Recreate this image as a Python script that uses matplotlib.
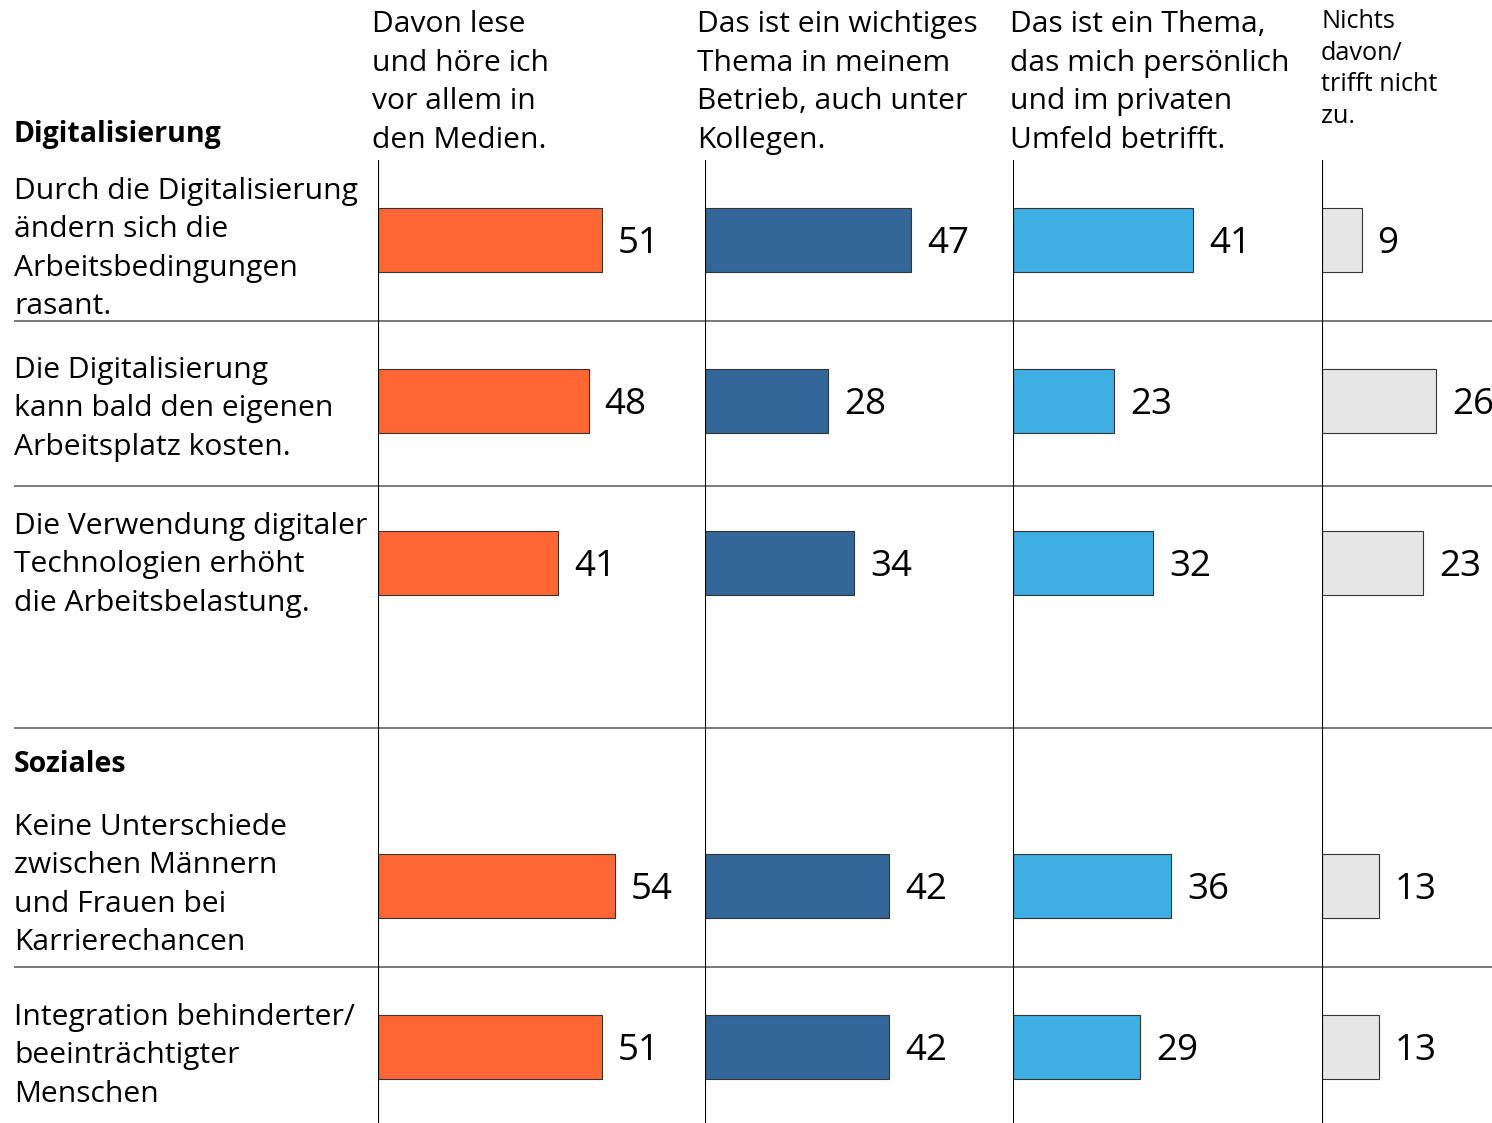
import matplotlib.pyplot as plt

plt.rcParams['font.family'] = ['Open Sans', 'DejaVu Sans']

# data
col_titles = [
    ["Davon lese", "und höre ich", "vor allem in", "den Medien."],
    ["Das ist ein wichtiges", "Thema in meinem", "Betrieb, auch unter", "Kollegen."],
    ["Das ist ein Thema,", "das mich persönlich", "und im privaten", "Umfeld betrifft."],
    ["Nichts", "davon/", "trifft nicht", "zu."],
]
row_labels = [
    ["Durch die Digitalisierung", "ändern sich die", "Arbeitsbedingungen", "rasant."],
    ["Die Digitalisierung", "kann bald den eigenen", "Arbeitsplatz kosten."],
    ["Die Verwendung digitaler", "Technologien erhöht", "die Arbeitsbelastung."],
    ["Keine Unterschiede", "zwischen Männern", "und Frauen bei", "Karrierechancen"],
    ["Integration behinderter/", "beeinträchtigter", "Menschen"],
]
groups = ["Digitalisierung", "Soziales"]
medien = [51, 48, 41, 54, 51]
betrieb = [47, 28, 34, 42, 42]
privat = [41, 23, 32, 36, 29]
nichts = [9, 26, 23, 13, 13]
series = [medien, betrieb, privat, nichts]
colors = ['#FF6633', '#336699', '#3FAEE3', '#E6E6E6']

# layout (pixels)
W, H = 1492, 1123
col_x = [378, 705, 1013, 1322, 1492]
row_y = [240, 401, 563, 886, 1047]
label_base = [199, 378, 534, 835, 1025]   # baseline of first label line
group_base = [142, 772]
sep_y = [321, 486, 728, 967]
px_per_unit = 4.39
line_top = 160


def put_lines(ax, x, y0, lines, step, **kw):
    for i, s in enumerate(lines):
        ax.text(x, y0 + i * step, s, va='baseline', ha='left', **kw)


fig = plt.figure(figsize=(W / 100, H / 100), dpi=100)
bg = fig.add_axes([0, 0, 1, 1])
bg.set_xlim(0, W)
bg.set_ylim(H, 0)
bg.axis('off')

bg.hlines(sep_y, 14, W, color='#555555', lw=1.1)

for g, y in zip(groups, group_base):
    bg.text(14, y, g, fontsize=20.5, fontweight='bold', va='baseline', ha='left')
for lab, y in zip(row_labels, label_base):
    put_lines(bg, 14, y, lab, 38.4, fontsize=21.6)

hx = [372, 697, 1010, 1321]
for i, t in enumerate(col_titles):
    if i < 3:
        put_lines(bg, hx[i], 32, t, 38.6, fontsize=21.6)
    else:
        put_lines(bg, hx[i], 28, t, 31.7, fontsize=18.2)

for i, vals in enumerate(series):
    x0, x1 = col_x[i], col_x[i + 1]
    ax = fig.add_axes([x0 / W, 0, (x1 - x0) / W, (H - line_top) / H])
    ax.set_xlim(0, (x1 - x0) / px_per_unit)
    ax.set_ylim(H, line_top)
    ax.axis('off')
    ax.barh(row_y, vals, height=64, color=colors[i], edgecolor='#333333', lw=0.8, zorder=2)
    ax.axvline(0, color='black', lw=1.5, zorder=3)
    for v, y in zip(vals, row_y):
        ax.text(v + 16 / px_per_unit, y + 12.5, str(v), fontsize=26.5,
                va='baseline', ha='left')

fig.savefig('out.png', dpi=100)
